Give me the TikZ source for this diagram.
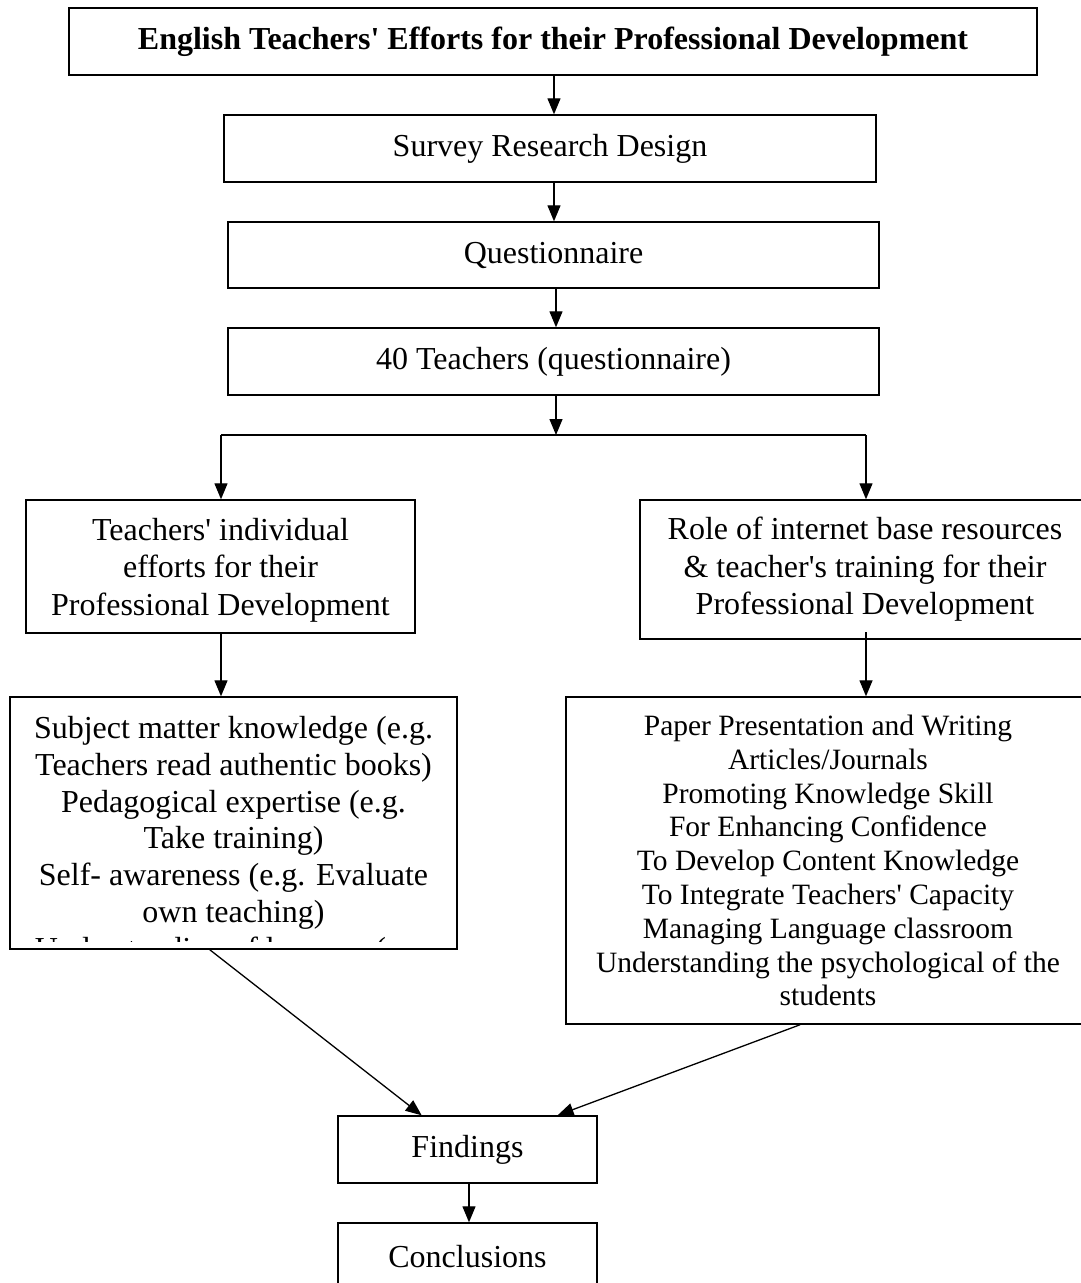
\documentclass[tikz,border=0pt]{standalone}
\usepackage{fontspec}
\setmainfont{Liberation Serif}
\usetikzlibrary{arrows.meta,calc}
\newcommand{\ap}{\textquotesingle}
\begin{document}
\begin{tikzpicture}[x=1pt,y=-1pt,
  box/.style={draw,line width=1.4pt,inner sep=0pt,align=center,
    font=\fontsize{32}{37.5}\selectfont},
  arr/.style={line width=1.3pt,-{Triangle[length=16pt,width=13pt]}},
  ln/.style={line width=1.3pt}]
\useasboundingbox (0,0) rectangle (1081,1283);
\node[box,minimum width=968pt,minimum height=67pt,font=\fontsize{32}{37.5}\selectfont\bfseries] (title) at (553,41.5)
  {English Teachers\ap{} Efforts for their Professional Development};
\node[box,minimum width=652pt,minimum height=67pt] (survey) at (550,148.5) {Survey Research Design};
\node[box,minimum width=651pt,minimum height=66pt] (quest) at (553.5,255) {Questionnaire};
\node[box,minimum width=651pt,minimum height=67pt] (forty) at (553.5,361.5) {40 Teachers (questionnaire)};
\node[box,minimum width=389pt,minimum height=133pt,text depth=0pt] (indiv) at (220.5,566.5)
  {\rule{0pt}{8pt}Teachers\ap{} individual\\efforts for their\\Professional Development};
\node[box,minimum width=450pt,minimum height=139pt] (role) at (865,569.5)
  {Role of internet base resources\\\& teacher\ap{}s training for their\\Professional Development};
\node[box,minimum width=447pt,minimum height=252pt] (subj) at (233.5,823) {};
\begin{scope}
  \clip (12,699) rectangle (455,941);
  \node[anchor=north,inner sep=0pt,align=center,font=\fontsize{32}{36.8}\selectfont] (subjtext) at (233.5,716)
  {Subject matter knowledge (e.g.\\Teachers read authentic books)\\Pedagogical expertise (e.g.\\Take training)\\Self- awareness (e.g. Evaluate\\own teaching)\\Understanding of learners (e.g.};
\end{scope}
\node[box,minimum width=524pt,minimum height=327pt,font=\fontsize{29.5}{33.8}\selectfont] (paper) at (828,860.5)
  {Paper Presentation and Writing\\Articles/Journals\\Promoting Knowledge Skill\\For Enhancing Confidence\\To Develop Content Knowledge\\To Integrate Teachers\ap{} Capacity\\Managing Language classroom\\Understanding the psychological of the\\students};
\node[box,minimum width=259pt,minimum height=67pt] (find) at (467.5,1149.5) {Findings};
\node[box,minimum width=259pt,minimum height=67pt] (concl) at (467.5,1256.5) {Conclusions};
\coordinate (bl) at (221,435);
\coordinate (br) at (866,435);
\coordinate (split) at (556,435);
\draw[arr] (554,75) coordinate (t1) -- (t1 |- survey.north);
\draw[arr] (554,182) coordinate (t2) -- (t2 |- quest.north);
\draw[arr] (556,288) coordinate (t3) -- (t3 |- forty.north);
\draw[arr] (556,395) coordinate (t4) -- (split);
\draw[ln] (bl) -- (br);
\draw[arr] (bl) -- (bl |- indiv.north);
\draw[arr] (br) -- (br |- role.north);
\draw[arr] (221,633) coordinate (t5) -- (t5 |- subj.north);
\draw[arr] (866,632) coordinate (t6) -- (t6 |- paper.north);
\draw[arr] ($(subj.south west)!0.447!(subj.south east)$) -- ($(find.north west)!0.324!(find.north east)$);
\draw[arr] ($(paper.south west)!0.447!(paper.south east)$) -- ($(find.north west)!0.846!(find.north east)$);
\draw[arr] (469,1183) coordinate (t7) -- (t7 |- concl.north);
\end{tikzpicture}
\end{document}
